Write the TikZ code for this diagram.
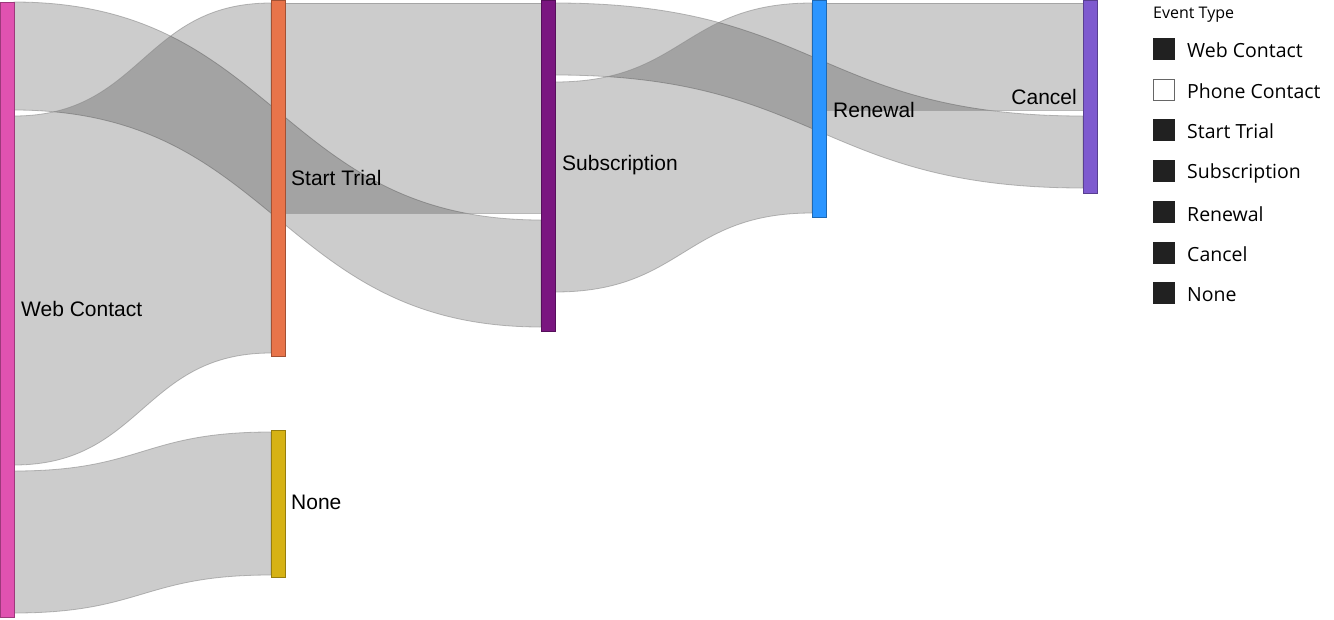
\documentclass[tikz,border=0pt]{standalone}
\usepackage{fontspec}
\setmainfont{Liberation Sans}
\newfontfamily\legfont{Open Sans}
\begin{document}
\begin{tikzpicture}[x=1pt,y=-1pt,
  bandst/.style={fill=black,fill opacity=0.2,draw=black!45,draw opacity=0.6,line width=0.8pt},
  nodest/.style={draw=#1!70!black,fill=#1,line width=0.6pt},
  lbl/.style={font=\fontsize{21}{24}\selectfont,anchor=west,inner sep=0pt},
  leg/.style={font=\legfont\fontsize{19.5}{22}\selectfont,anchor=west,inner sep=0pt},
  legbox/.style={fill=black!87,draw=black!87,minimum size=21pt,inner sep=0pt}]
\definecolor{cweb}{HTML}{E052B0}
\definecolor{ctrial}{HTML}{E8744A}
\definecolor{cnone}{HTML}{D6B214}
\definecolor{csub}{HTML}{7A1680}
\definecolor{cren}{HTML}{2B95FF}
\definecolor{ccan}{HTML}{7E5ACF}
\useasboundingbox (0,0) rectangle (1334,619);
\newcommand\sankeyband[6]{%
  \pgfmathsetmacro\mx{(#1+#4)/2}%
  \path[bandst] (#1,#2) .. controls (\mx,#2) and (\mx,#5) .. (#4,#5) -- (#4,#6)
     .. controls (\mx,#6) and (\mx,#3) .. (#1,#3) -- cycle;}
% bands
\sankeyband{14}{2}{110}{541}{220}{327}
\sankeyband{14}{116}{465}{271}{3}{353}
\sankeyband{14}{471}{613}{271}{432}{575}
\sankeyband{285}{3}{213}{541}{3}{213}
\sankeyband{555}{3}{75}{1083}{116}{188}
\sankeyband{555}{82}{292}{812}{3}{213}
\sankeyband{826}{3}{110}{1083}{3}{110}
% nodes
\path[nodest=cweb] (0,2) rectangle (14,617); \node (web) at (7,309) {};
\path[nodest=ctrial] (271,0) rectangle (285,356); \node (trial) at (278,178) {};
\path[nodest=cnone] (271,430) rectangle (285,577); \node (none) at (278,503) {};
\path[nodest=csub] (541,0) rectangle (555,331); \node (sub) at (548,165) {};
\path[nodest=cren] (812,0) rectangle (826,217); \node (ren) at (819,108) {};
\path[nodest=ccan] (1083,0) rectangle (1097,193); \node (can) at (1090,96) {};
% labels
\node[lbl] (lweb) at (21,309) {Web Contact};
\node[lbl] (ltrial) at (291,178) {Start Trial};
\node[lbl] (lnone) at (291,502) {None};
\node[lbl] (lsub) at (562,165) {Subscription};
\node[lbl] (lren) at (833,110) {Renewal};
\node[lbl,anchor=east] (lcan) at (1077,97) {Cancel};
% legend
\node[font=\legfont\fontsize{16}{18}\selectfont,anchor=west,inner sep=0pt] (lt) at (1153,15) {Event Type};
\node[legbox] (b1) at (1164,49) {}; \node[leg] (t1) at (1187,50) {Web Contact};
\node[legbox,fill=white,draw=black!60] (b2) at (1164,90) {}; \node[leg] (t2) at (1187,91) {Phone Contact};
\node[legbox] (b3) at (1164,130) {}; \node[leg] (t3) at (1187,131) {Start Trial};
\node[legbox] (b4) at (1164,171) {}; \node[leg] (t4) at (1187,173) {Subscription};
\node[legbox] (b5) at (1164,212) {}; \node[leg] (t5) at (1187,214) {Renewal};
\node[legbox] (b6) at (1164,253) {}; \node[leg] (t6) at (1187,254) {Cancel};
\node[legbox] (b7) at (1164,293) {}; \node[leg] (t7) at (1187,295) {None};
\end{tikzpicture}
\end{document}
